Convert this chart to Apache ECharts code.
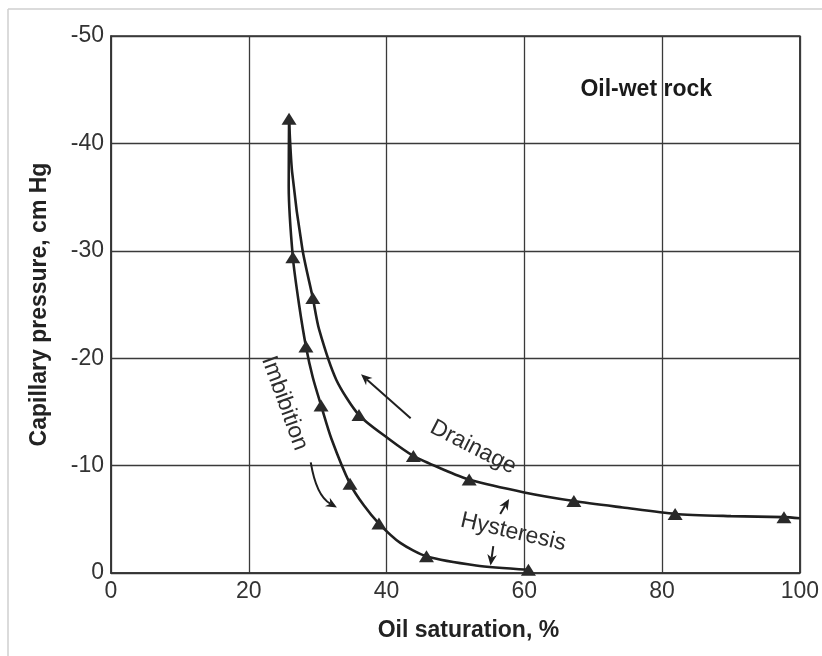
<!DOCTYPE html>
<html>
<head>
<meta charset="utf-8">
<script src="https://cdn.jsdelivr.net/npm/echarts@6/dist/echarts.min.js"></script>
<style>
html,body{margin:0;padding:0;background:#fff;}
#chart{width:822px;height:656px;}
</style>
</head>
<body>
<div id="chart"></div>
<script>
// ---- data ----
// Drainage curve: points; "marked" = has a triangle
const drainageX = [25.85, 26.3, 27.8, 29.3, 30.2, 32.7, 36.0, 40.3, 43.9, 48.0, 52.0, 60.0, 67.2, 74.3, 81.9, 90.0, 97.7, 100];
const drainageY = [-42.3, -37.3, -30.1, -25.6, -22.7, -18.0, -14.7, -12.5, -10.9, -9.7, -8.7, -7.5, -6.7, -6.1, -5.5, -5.3, -5.2, -5.1];
const drainageMarked = [true, false, false, true, false, false, true, false, true, false, true, false, true, false, true, false, true, false];

// Imbibition curve
const imbibitionX = [25.85, 25.8, 26.4, 27.3, 28.3, 29.3, 30.5, 32.0, 34.7, 36.7, 38.9, 42.0, 45.8, 53.0, 60.6];
const imbibitionY = [-42.3, -36.0, -29.4, -25.0, -21.1, -18.2, -15.6, -12.5, -8.3, -6.3, -4.6, -2.8, -1.55, -0.7, -0.3];
const imbibitionMarked = [false, false, true, false, true, false, true, false, true, false, true, false, true, false, true];

const xTitle = 'Oil saturation, %';
const yTitle = 'Capillary pressure, cm Hg';

// annotation texts (data coordinates of their centres) and rotations (deg)
const annoTexts = ['Oil-wet rock', 'Drainage', 'Hysteresis', 'Imbibition'];
const annoPos = [[77.7, -45.0], [52.6, -11.7], [58.4, -3.8], [25.2, -15.8]];
const annoRot = [0, -27, -13, -70];
const annoBold = [true, false, false, false];

// arrows: [tail, control (or null), tip] in data coordinates
const arrows = [
  [[43.5, -14.4], null, [36.3, -18.5]],
  [[29.0, -10.3], [29.8, -7.2], [32.8, -6.1]],
  [[56.5, -5.5], null, [57.8, -6.9]],
  [[55.5, -2.5], null, [55.1, -0.7]]
];

const FONT = '"Liberation Sans", Arial, Helvetica, sans-serif';
const INK = '#1f1f1f';

function buildSeriesData(xs, ys, marked) {
  return xs.map((x, i) => {
    const item = { value: [x, ys[i]] };
    if (!marked[i]) item.symbol = 'none';
    return item;
  });
}

const chart = echarts.init(document.getElementById('chart'), null, { renderer: 'canvas' });

const option = {
  backgroundColor: '#ffffff',
  animation: false,
  grid: {
    left: 111, right: 12, top: 36, bottom: 83,
    show: true, borderColor: '#333', borderWidth: 1.5
  },
  xAxis: {
    type: 'value', min: 0, max: 100, interval: 20,
    name: xTitle, nameLocation: 'middle', nameGap: 46,
    nameTextStyle: { fontFamily: FONT, fontSize: 23, fontWeight: 'bold', color: '#222', padding: [0, 0, 0, 26] },
    axisLine: { show: true, lineStyle: { color: '#333', width: 1.5 } },
    axisTick: { show: false },
    axisLabel: { fontFamily: FONT, fontSize: 23, color: '#333', margin: 7 },
    splitLine: { show: true, lineStyle: { color: '#3a3a3a', width: 1.3 } }
  },
  yAxis: {
    type: 'value', min: -50, max: 0, interval: 10, inverse: true,
    name: yTitle, nameLocation: 'middle', nameGap: 60, nameRotate: 90,
    nameTextStyle: { fontFamily: FONT, fontSize: 23, fontWeight: 'bold', color: '#222', padding: [0, 0, 0, 0] },
    axisLine: { show: true, lineStyle: { color: '#333', width: 1.5 } },
    axisTick: { show: false },
    axisLabel: { fontFamily: FONT, fontSize: 23, color: '#333', margin: 7 },
    splitLine: { show: true, lineStyle: { color: '#3a3a3a', width: 1.3 } }
  },
  series: [
    {
      name: 'Drainage', type: 'line', smooth: 0.25,
      data: buildSeriesData(drainageX, drainageY, drainageMarked),
      symbol: 'triangle', symbolSize: [15, 12], showAllSymbol: true,
      lineStyle: { color: INK, width: 2.6 },
      itemStyle: { color: '#2a2a2a', borderWidth: 0 },
      z: 5
    },
    {
      name: 'Imbibition', type: 'line', smooth: 0.25,
      data: buildSeriesData(imbibitionX, imbibitionY, imbibitionMarked),
      symbol: 'triangle', symbolSize: [15, 12], showAllSymbol: true,
      lineStyle: { color: INK, width: 2.6 },
      itemStyle: { color: '#2a2a2a', borderWidth: 0 },
      z: 5
    }
  ]
};
chart.setOption(option);

function px(p) { return chart.convertToPixel({ gridIndex: 0 }, p); }

const graphics = [];
// light outer frame of the figure
graphics.push({ type: 'line', shape: { x1: 8, y1: 9, x2: 822, y2: 9 }, style: { stroke: '#cfcfcf', lineWidth: 1.5 }, silent: true });
graphics.push({ type: 'line', shape: { x1: 8, y1: 9, x2: 8, y2: 656 }, style: { stroke: '#cfcfcf', lineWidth: 1.5 }, silent: true });

annoTexts.forEach((t, i) => {
  const c = px(annoPos[i]);
  graphics.push({
    type: 'text', x: c[0], y: c[1], rotation: annoRot[i] * Math.PI / 180,
    style: {
      text: t, fontFamily: FONT, fontSize: 23, fontWeight: annoBold[i] ? 'bold' : 'normal',
      fill: annoBold[i] ? '#1a1a1a' : '#2e2e2e', align: 'center', verticalAlign: 'middle'
    },
    z: 10
  });
});

arrows.forEach(a => {
  const t = px(a[0]);
  const tip = px(a[2]);
  const from = a[1] ? px(a[1]) : t;
  let dx = tip[0] - from[0], dy = tip[1] - from[1];
  const len = Math.hypot(dx, dy); dx /= len; dy /= len;
  const nx = -dy, ny = dx;
  const L = 11, W = 4.8;
  const back = [tip[0] - L * dx, tip[1] - L * dy];
  const notch = [tip[0] - 0.7 * L * dx, tip[1] - 0.7 * L * dy];
  if (a[1]) {
    const cp = px(a[1]);
    graphics.push({ type: 'bezierCurve', shape: { x1: t[0], y1: t[1], x2: notch[0], y2: notch[1], cpx1: cp[0], cpy1: cp[1] },
      style: { stroke: INK, lineWidth: 2, fill: null }, z: 10 });
  } else {
    graphics.push({ type: 'line', shape: { x1: t[0], y1: t[1], x2: notch[0], y2: notch[1] },
      style: { stroke: INK, lineWidth: 2 }, z: 10 });
  }
  graphics.push({
    type: 'polygon',
    shape: { points: [tip, [back[0] + W * nx, back[1] + W * ny], notch, [back[0] - W * nx, back[1] - W * ny]] },
    style: { fill: INK }, z: 10
  });
});

chart.setOption({ graphic: graphics });
</script>
</body>
</html>
